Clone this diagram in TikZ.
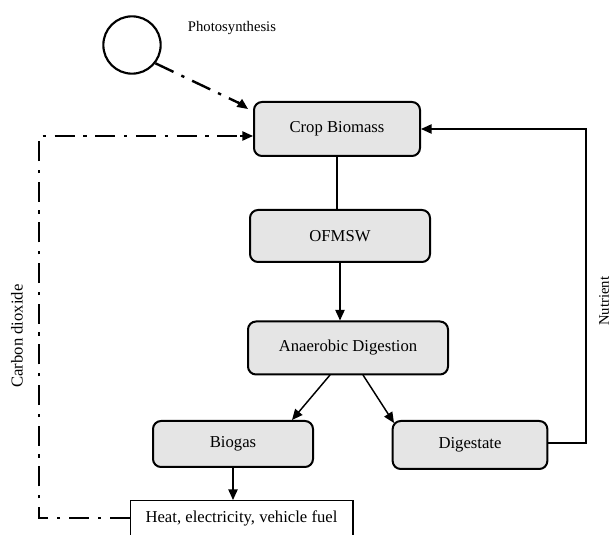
\documentclass[tikz,border=0pt]{standalone}
\usepackage{fontspec}
\setmainfont{Liberation Serif}
\usetikzlibrary{arrows.meta}
\tikzset{
  stage/.style={draw, line width=1.5pt, rounded corners=6pt, fill=gray!20,
    inner sep=0pt, font=\fontsize{12.5}{14}\selectfont},
  flow/.style={line width=1.1pt, -{Triangle[length=8pt,width=7pt]}},
  plain/.style={line width=1.1pt},
  cycle/.style={line width=1.8pt, dash pattern=on 15pt off 6.5pt on 2.5pt off 6.5pt},
  lbl/.style={font=\fontsize{11}{13}\selectfont, inner sep=0pt}
}
\begin{document}
\begin{tikzpicture}[x=0.75pt, y=-0.75pt]
\useasboundingbox (0,0) rectangle (612,535);

% sun
\node[draw, circle, line width=1.6pt, minimum size=43pt, inner sep=0pt] (sun) at (132,45) {};
\node[lbl] (photo) at (232,28) {Photosynthesis};

% process stages
\node[stage, minimum width=124.5pt, minimum height=40.5pt] (crop) at (337,129) {Crop Biomass};
\node[stage, minimum width=135pt, minimum height=39pt] (ofmsw) at (340,236) {OFMSW};
\node[stage, minimum width=150pt, minimum height=39.75pt] (ad) at (348,348) {Anaerobic Digestion};
\node[stage, minimum width=120pt, minimum height=34.5pt] (biogas) at (233,444) {Biogas};
\node[stage, minimum width=116pt, minimum height=36pt] (dig) at (470,445) {Digestate};
\node[draw, line width=1pt, minimum width=167pt, minimum height=26pt, inner sep=0pt,
      font=\fontsize{12.5}{14}\selectfont] (use) at (241.5,518) {Heat, electricity, vehicle fuel};

% main chain
\draw[plain] (crop.south -| 337,0) -- (ofmsw.north -| 337,0);
\draw[flow] (ofmsw.south -| 340,0) -- (ad.north -| 340,0);
\draw[flow] (330,375) -- (292,420);
\draw[flow] (363,375) -- (394,423);
\draw[flow] (biogas.south) -- (use.north -| biogas.south);

% nutrient return
\coordinate (n1) at (586,443);
\coordinate (n2) at (586,129);
\draw[flow] (dig.east |- n1) -- (n1) -- (n2) -- (crop.east |- n2);
\node[lbl, rotate=90, anchor=west] (nut) at (604,326) {Nutrient};

% carbon cycle
\coordinate (c1) at (39,518);
\coordinate (c2) at (39,136);
\draw[cycle] (use.west |- c1) -- (c1) -- (c2) -- (244,136);
\draw[-{Triangle[length=8pt,width=7pt]}, line width=1.1pt] (240,136) -- (crop.west |- c2);
\draw[cycle] (sun.-38) -- (241,104);
\draw[-{Triangle[length=8pt,width=7pt]}, line width=1.1pt] (238,102) -- (248,109);
\node[rotate=90, anchor=west, font=\fontsize{12.5}{14}\selectfont, inner sep=0pt] (co2) at (17,388) {Carbon dioxide};
\end{tikzpicture}
\end{document}
